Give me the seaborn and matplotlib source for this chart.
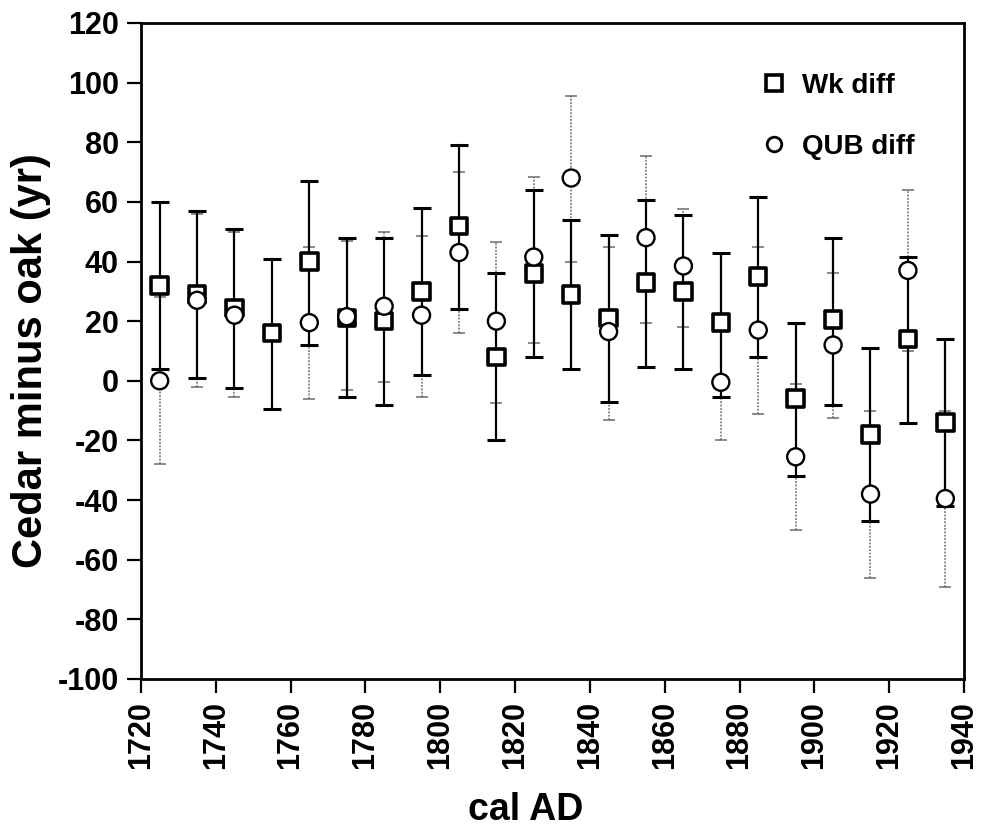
import numpy as np
import pandas as pd
import matplotlib
matplotlib.use("Agg")
import matplotlib.pyplot as plt
from matplotlib.lines import Line2D
from matplotlib.collections import PathCollection
import seaborn as sns

years = [1725, 1735, 1745, 1755, 1765, 1775, 1785, 1795, 1805, 1815, 1825,
         1835, 1845, 1855, 1865, 1875, 1885, 1895, 1905, 1915, 1925, 1935]

wk_diff = [32, 29, 24.5, 16, 40, 21, 20, 30, 52, 8, 36,
           29, 21, 33, 30, 19.5, 35, -6, 20.5, -18, 14, -14]
wk_low = [4, 1, -2.5, -9.5, 12, -5.5, -8, 2, 24, -20, 8,
          4, -7, 4.5, 4, -5.5, 8, -32, -8, -47, -14, -42]
wk_high = [60, 57, 51, 41, 67, 48, 48, 58, 79, 36, 64,
           54, 49, 60.5, 55.5, 43, 61.5, 19.5, 48, 11, 41.5, 14]

qub_diff = [0, 27, 22, np.nan, 19.5, 21.5, 25, 22, 43, 20, 41.5,
            68, 16.5, 48, 38.5, -0.5, 17, -25.5, 12, -38, 37, -39.5]
qub_low = [-28, -2, -5.5, np.nan, -6, -3, -0.5, -5.5, 16, -7.3, 12.6,
           40, -13, 19.5, 18, -20, -11, -50, -12.5, -66, 10, -69]
qub_high = [28, 56, 50, np.nan, 45, 47, 50, 48.5, 70, 46.6, 68.5,
            95.5, 45, 75.5, 57.5, 18, 44.7, -1, 36, -10, 64, -10]

series_names = ["Wk diff", "QUB diff"]
x_ticks = list(range(1720, 1941, 20))
y_ticks = list(range(-100, 121, 20))

sns.set_style("ticks")
plt.rcParams["font.family"] = ["Liberation Sans", "DejaVu Sans"]
plt.rcParams["font.weight"] = "bold"
plt.rcParams["axes.unicode_minus"] = False
plt.rcParams["text.color"] = "black"
plt.rcParams["axes.labelcolor"] = "black"
plt.rcParams["xtick.color"] = "black"
plt.rcParams["ytick.color"] = "black"

df = pd.DataFrame({
    "year": years * 2,
    "diff": wk_diff + qub_diff,
    "low": wk_low + qub_low,
    "high": wk_high + qub_high,
    "series": [series_names[0]] * len(years) + [series_names[1]] * len(years),
}).dropna()

fig = plt.figure(figsize=(9.81, 8.26), dpi=100)
ax = fig.add_axes([0.1437, 0.178, 0.8390, 0.7942])

# QUB error bars (light dotted grey)
q = df[df.series == series_names[1]]
ax.errorbar(q["year"], q["diff"],
            yerr=[q["diff"] - q["low"], q["high"] - q["diff"]],
            fmt="none", ecolor="#6a6a6a", elinewidth=1.1, capsize=4.5,
            capthick=1.1, zorder=2)
ax.collections[-1].set_linestyle((0, (1.2, 1.0)))

# Wk error bars (solid black)
w = df[df.series == series_names[0]]
ax.errorbar(w["year"], w["diff"],
            yerr=[w["diff"] - w["low"], w["high"] - w["diff"]],
            fmt="none", ecolor="black", elinewidth=1.6, capsize=6.5,
            capthick=2.2, zorder=3)

sns.scatterplot(data=df, x="year", y="diff",
                style="series", markers={"Wk diff": "s", "QUB diff": "o"},
                hue="series", palette={"Wk diff": "black", "QUB diff": "black"},
                size="series", sizes={"Wk diff": 140, "QUB diff": 150},
                ax=ax, zorder=4, legend=False)

# hollow markers: squares heavy edge, circles thinner edge
lw = np.where(df["series"].values == series_names[0], 2.6, 1.7)
for coll in ax.collections:
    if isinstance(coll, PathCollection):
        coll.set_facecolor("white")
        coll.set_edgecolor("black")
        coll.set_linewidths(lw)

ax.set_xlim(1720, 1940)
ax.set_ylim(-100, 120)
ax.set_xticks(x_ticks)
ax.set_yticks(y_ticks)
ax.tick_params(axis="both", direction="out", length=10, width=1.6,
               labelsize=22, pad=6, colors="black")
ax.tick_params(top=False, right=False)
for lbl in ax.get_xticklabels():
    lbl.set_rotation(90)
    lbl.set_fontweight("bold")
for lbl in ax.get_yticklabels():
    lbl.set_fontweight("bold")
for s in ax.spines.values():
    s.set_visible(True)
    s.set_linewidth(2.0)
    s.set_color("black")

ax.set_xlabel("cal AD", fontsize=27, fontweight="bold")
ax.xaxis.set_label_coords(0.468, -0.172)
ax.set_ylabel("Cedar minus oak (yr)", fontsize=30, fontweight="bold")
ax.yaxis.set_label_coords(-0.109, 0.485)

# legend
handles = [
    Line2D([], [], marker="s", linestyle="none", markersize=11,
           markerfacecolor="white", markeredgecolor="black", markeredgewidth=2.6),
    Line2D([], [], marker="o", linestyle="none", markersize=10.5,
           markerfacecolor="white", markeredgecolor="black", markeredgewidth=2.0),
]
leg = ax.legend(handles, series_names, loc="upper left", frameon=False,
                bbox_to_anchor=(0.722, 0.962), prop={"size": 20, "weight": "bold"},
                labelspacing=1.25, handletextpad=0.5, handlelength=1.0)
for t in leg.get_texts():
    t.set_color("black")

fig.savefig("out.png", dpi=100)
